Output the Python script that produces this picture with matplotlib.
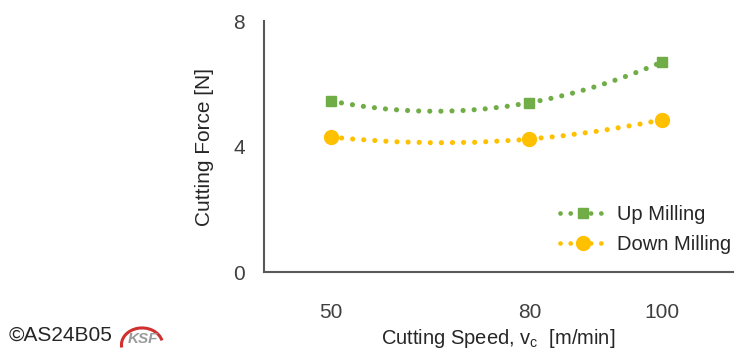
import numpy as np
import matplotlib
matplotlib.use('Agg')
import matplotlib.pyplot as plt
from matplotlib.path import Path
from matplotlib.patches import PathPatch, Arc
from matplotlib.lines import Line2D

plt.rcParams['font.family'] = ['Liberation Sans Narrow', 'Liberation Sans', 'DejaVu Sans']

speed = [50, 80, 100]
up_milling = [5.46, 5.40, 6.70]
down_milling = [4.31, 4.24, 4.86]
y_ticks = [0, 4, 8]
x_ticks = [50, 80, 100]

GREEN = '#70AD47'
YELLOW = '#FFC000'
DOTS = (0, (0.01, 2.15))


def trend_path(x, y):
    # 2nd order polynomial trendline, drawn as one quadratic bezier
    c = np.polyfit(x, y, 2)
    x0, x1 = min(x), max(x)
    y0, y1 = np.polyval(c, x0), np.polyval(c, x1)
    slope0 = np.polyval(np.polyder(c), x0)
    ctrl = ((x0 + x1) / 2, y0 + slope0 * (x1 - x0) / 2)
    return Path([(x0, y0), ctrl, (x1, y1)], [Path.MOVETO, Path.CURVE3, Path.CURVE3])


fig = plt.figure(figsize=(7.36, 3.53), dpi=100)
ax = fig.add_axes([0.359, 0.229, 0.637, 0.711])

for ys, col, mk, ms, lab in [(up_milling, GREEN, 's', 7.4, 'Up Milling'),
                             (down_milling, YELLOW, 'o', 10, 'Down Milling')]:
    patch = PathPatch(trend_path(speed, ys), fill=False, edgecolor=col, lw=3.7,
                      linestyle=DOTS, capstyle='round')
    ax.add_patch(patch)
    ax.plot(speed, ys, linestyle='none', marker=mk, ms=ms, color=col, label=lab, zorder=3)

ax.set_xlim(40, 110.7)
ax.set_ylim(0, 8)
ax.set_xticks(x_ticks)
ax.set_yticks(y_ticks)
ax.tick_params(length=0, labelsize=15, colors='#404040')
ax.tick_params(axis='x', pad=22)
ax.tick_params(axis='y', pad=14)
for s in ['top', 'right']:
    ax.spines[s].set_visible(False)
for s in ['left', 'bottom']:
    ax.spines[s].set_color('#595959')
    ax.spines[s].set_linewidth(1.5)

ax.set_ylabel('Cutting Force [N]', fontsize=15, color='#262626', labelpad=14)
ax.set_xlabel('Cutting Speed, v$_\\mathregular{c}$  [m/min]', fontsize=14.5, color='#262626', labelpad=4)

handles = []
for col, mk, ms in [(GREEN, 's', 7.4), (YELLOW, 'o', 10)]:
    h = Line2D([0, 0.5, 1], [0, 0, 0], color=col, lw=3.4, linestyle=DOTS, dash_capstyle='round',
               marker=mk, ms=ms, markevery=[1])
    handles.append(h)
ax.legend(handles, ['Up Milling', 'Down Milling'], loc='lower right', bbox_to_anchor=(1.035, 0.0),
          frameon=False, fontsize=14.5, handlelength=2.3, handletextpad=0.55, labelspacing=0.55,
          labelcolor='#262626')

fig.text(0.012, 0.035, '\u00a9AS24B05', fontsize=15, color='#262626')
fig.add_artist(Arc((0.193, 0.023), 0.056, 0.096, theta1=25, theta2=195, color='#d03030', lw=2.2,
                   transform=fig.transFigure))
fig.text(0.174, 0.028, 'KSF', fontsize=11, color='#9a9a9a', fontweight='bold', style='italic')

fig.savefig('out.png', dpi=100)
